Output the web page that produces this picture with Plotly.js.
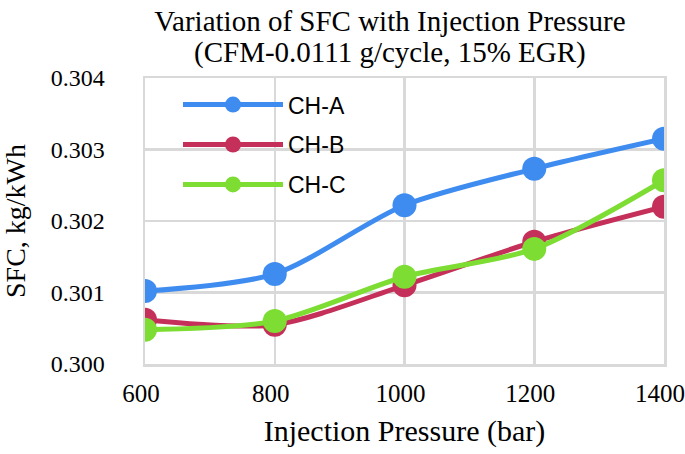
<!DOCTYPE html>
<html><head><meta charset="utf-8">
<script src="https://cdn.plot.ly/plotly-3.0.1.min.js"></script>
<style>html,body{margin:0;padding:0;background:#fff}#chart{width:685px;height:454px}</style>
</head><body><div id="chart"></div>
<script>
const pressure = [600, 800, 1000, 1200, 1400];
const chA = [0.30102, 0.30126, 0.30222, 0.30273, 0.30315];
const chB = [0.30062, 0.30055, 0.30110, 0.30171, 0.30220];
const chC = [0.30048, 0.30060, 0.30122, 0.30161, 0.30257];
const seriesNames = ['CH-A', 'CH-B', 'CH-C'];
const colors = ['#3f8cf0', '#c5305a', '#7ddd33'];
const yTicks = [0.300, 0.301, 0.302, 0.303, 0.304];
const xTicks = [600, 800, 1000, 1200, 1400];
const titleLine1 = 'Variation of SFC with Injection Pressure';
const titleLine2 = '(CFM-0.0111 g/cycle, 15% EGR)';

const series = [chA, chB, chC];
const traces = series.map((ys, i) => ({
  x: pressure, y: ys, name: seriesNames[i], type: 'scatter', mode: 'lines+markers',
  legendgroup: 'g' + i, legendrank: i + 1,
  line: {color: colors[i], width: 5, shape: 'spline', smoothing: 0.8},
  marker: {color: colors[i], size: 24}
}));
// draw order: B under C, A on top
const ordered = [traces[1], traces[2], traces[0]];

const serif = 'Liberation Serif, Times New Roman, serif';
const layout = {
  width: 685, height: 454,
  margin: {l: 145, r: 21, t: 78, b: 90},
  paper_bgcolor: '#fff', plot_bgcolor: '#fff',
  title: {text: titleLine1,
    font: {family: serif, size: 29, color: '#000'}, x: 0.472, xanchor: 'center', xref: 'paper',
    y: 1 - 21 / 454, yanchor: 'middle', yref: 'container'},
  annotations: [{text: titleLine2, showarrow: false, xref: 'paper', yref: 'paper',
    x: 0.472, y: (364 - 52) / 286, xanchor: 'center', yanchor: 'middle',
    font: {family: serif, size: 29, color: '#000'}}],
  xaxis: {range: [600, 1400], tickvals: xTicks, ticktext: xTicks.map(String),
    tickfont: {family: serif, size: 25, color: '#000'},
    showgrid: true, gridcolor: '#d9d9d9', gridwidth: 2.5,
    showline: true, linecolor: '#d9d9d9', linewidth: 2.5, mirror: true,
    zeroline: false, ticks: '', ticklabelstandoff: 5, ticklabelshift: -4,
    ticklabeloverflow: 'allow',
    title: {text: 'Injection Pressure (bar)', font: {family: serif, size: 30, color: '#000'}, standoff: 15}},
  yaxis: {range: [0.300, 0.304], tickvals: yTicks, ticktext: yTicks.map(v => v.toFixed(3)),
    tickfont: {family: serif, size: 24, color: '#000'},
    showgrid: true, gridcolor: '#d9d9d9', gridwidth: 2.5,
    showline: true, linecolor: '#d9d9d9', linewidth: 2.5, mirror: true,
    zeroline: false, ticks: '', ticklabelstandoff: 33,
    title: {text: 'SFC, kg/kWh', font: {family: serif, size: 28, color: '#000'}, standoff: 26}},
  showlegend: true,
  legend: {x: 0.0636, y: 0.982, xanchor: 'left', yanchor: 'top', bgcolor: 'rgba(0,0,0,0)',
    font: {family: 'Liberation Sans, Arial, sans-serif', size: 23, color: '#000'},
    traceorder: 'grouped', tracegroupgap: 7, itemwidth: 100}
};
Plotly.newPlot('chart', ordered, layout, {displayModeBar: false, staticPlot: true});
</script></body></html>
